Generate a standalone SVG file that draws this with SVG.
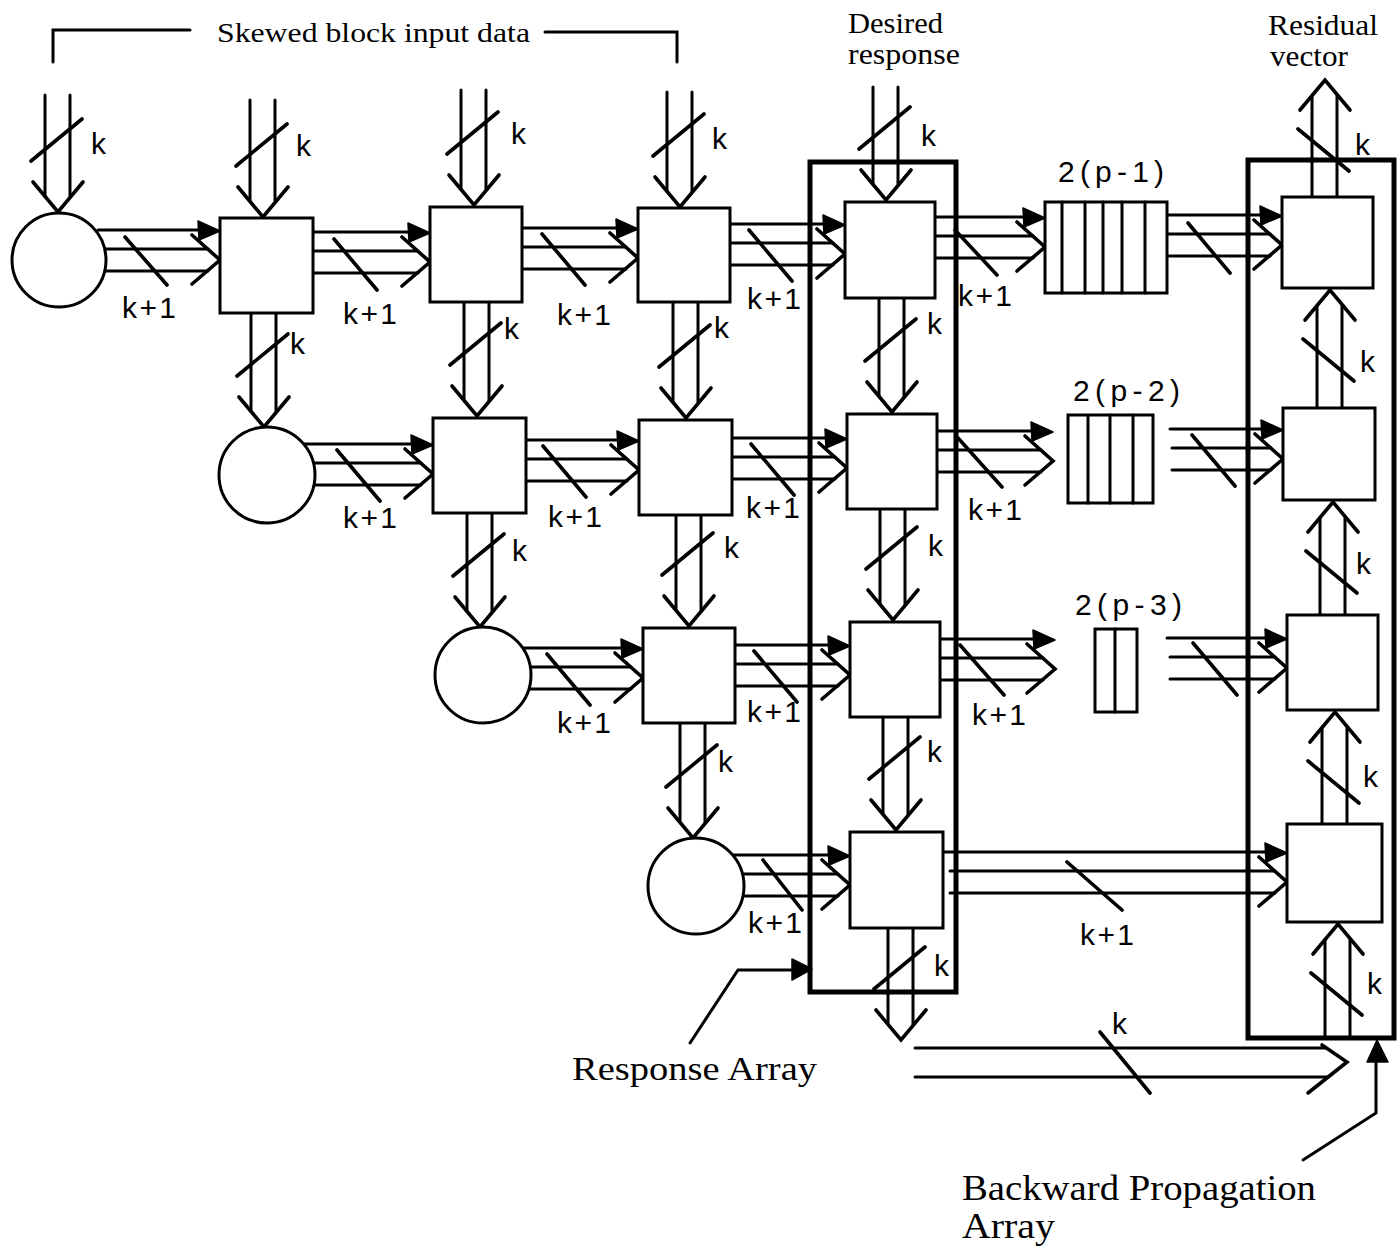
<svg xmlns="http://www.w3.org/2000/svg" xmlns:xlink="http://www.w3.org/1999/xlink" width="1400" height="1260" viewBox="0 0 1400 1260">
<style>
.ln{fill:none;stroke:#000;stroke-width:3;stroke-linecap:round}
.sl{fill:none;stroke:#000;stroke-width:3.6;stroke-linecap:round}
.hd{fill:none;stroke:#000;stroke-width:3.6;stroke-linecap:round;stroke-linejoin:miter}
.tri{fill:#000;stroke:#000;stroke-width:1.5;stroke-linejoin:round}
.bx{fill:#fff;stroke:#000;stroke-width:3}
.arr{fill:none;stroke:#000;stroke-width:5}
.s{font-family:"Liberation Sans",Arial,sans-serif;font-size:30px;fill:#000}
.r{font-family:"Liberation Serif","Times New Roman",serif;fill:#000}
</style>
<defs>
<g id="hh"><polygon class="tri" points="0,-29 -22,-39 -21,-20"/><path class="hd" d="M-28,-25 L0,0 L-28,24"/></g>
<path id="vd" class="hd" d="M-25,-30 L0,0 L25,-30"/>
<path id="vu" class="hd" d="M-25,30 L0,0 L25,30"/>
</defs>
<rect width="1400" height="1260" fill="#fff"/>

<g id="connectors">
<!-- horizontal buses -->
<path class="ln" d="M98,230 H200 M100,249 H208 M100,271 H208
M313,232 H410 M313,251 H418 M313,273 H418
M522,228 H618 M522,247 H626 M522,269 H626
M730,224 H825 M730,243 H833 M730,265 H833
M935,217 H1025 M935,236 H1033 M935,258 H1033
M1167,215 H1262 M1167,234 H1270 M1167,256 H1270
M300,444 H413 M300,463 H421 M300,485 H421
M526,440 H619 M526,459 H627 M526,481 H627
M732,438 H827 M732,457 H835 M732,479 H835
M937,431 H1033 M937,450 H1041 M937,472 H1041
M1170,429 H1263 M1172,448 H1271 M1172,470 H1271
M515,648 H623 M515,667 H631 M515,689 H631
M735,645 H830 M735,664 H838 M735,686 H838
M940,639 H1035 M940,658 H1043 M940,680 H1043
M1167,638 H1267 M1170,657 H1275 M1170,679 H1275
M730,855 H830 M730,874 H838 M730,896 H838
M943,852 H1267 M950,871 H1275 M950,893 H1275
M915,1048 H1325 M915,1077 H1328"/>
<use xlink:href="#hh" x="220" y="260"/>
<use xlink:href="#hh" x="430" y="262"/>
<use xlink:href="#hh" x="638" y="258"/>
<use xlink:href="#hh" x="845" y="254"/>
<use xlink:href="#hh" x="1045" y="247"/>
<use xlink:href="#hh" x="1282" y="245"/>
<use xlink:href="#hh" x="433" y="474"/>
<use xlink:href="#hh" x="639" y="470"/>
<use xlink:href="#hh" x="847" y="468"/>
<use xlink:href="#hh" x="1053" y="461"/>
<use xlink:href="#hh" x="1283" y="459"/>
<use xlink:href="#hh" x="643" y="678"/>
<use xlink:href="#hh" x="850" y="675"/>
<use xlink:href="#hh" x="1055" y="669"/>
<use xlink:href="#hh" x="1287" y="668"/>
<use xlink:href="#hh" x="850" y="885"/>
<use xlink:href="#hh" x="1287" y="882"/>
<path class="hd" d="M1322,1045 L1347,1062 L1308,1093"/>

<!-- vertical down buses -->
<path class="ln" d="M45,95 V196 M70,95 V196
M250,100 V201 M275,100 V201
M461,90 V189 M486,90 V189
M667,92 V191 M692,92 V191
M873,87 V184 M898,87 V184
M251,313 V411 M276,313 V411
M464,302 V400 M489,302 V400
M673,302 V402 M698,302 V402
M879,298 V396 M904,298 V396
M467,513 V611 M492,513 V611
M676,515 V610 M701,515 V610
M880,509 V604 M905,509 V604
M680,723 V822 M705,723 V822
M883,717 V814 M908,717 V814
M888,928 V1024 M913,928 V1024"/>
<use xlink:href="#vd" x="58" y="212"/>
<use xlink:href="#vd" x="263" y="217"/>
<use xlink:href="#vd" x="474" y="205"/>
<use xlink:href="#vd" x="680" y="207"/>
<use xlink:href="#vd" x="886" y="200"/>
<use xlink:href="#vd" x="264" y="427"/>
<use xlink:href="#vd" x="477" y="416"/>
<use xlink:href="#vd" x="686" y="418"/>
<use xlink:href="#vd" x="892" y="412"/>
<use xlink:href="#vd" x="480" y="627"/>
<use xlink:href="#vd" x="689" y="626"/>
<use xlink:href="#vd" x="893" y="620"/>
<use xlink:href="#vd" x="693" y="838"/>
<use xlink:href="#vd" x="896" y="830"/>
<use xlink:href="#vd" x="901" y="1040"/>

<!-- vertical up buses -->
<path class="ln" d="M1312,197 V96 M1337,197 V96
M1317,408 V306 M1342,408 V306
M1320,615 V518 M1345,615 V518
M1322,824 V728 M1347,824 V728
M1325,1038 V940 M1350,1038 V940"/>
<use xlink:href="#vu" x="1325" y="80"/>
<use xlink:href="#vu" x="1330" y="290"/>
<use xlink:href="#vu" x="1333" y="502"/>
<use xlink:href="#vu" x="1335" y="712"/>
<use xlink:href="#vu" x="1338" y="924"/>

<!-- width slashes -->
<path class="sl" d="M125,237 L167,285 M334,239 L377,290 M542,234 L585,285 M749,230 L792,281
M955,230 L997,275 M1188,223 L1230,273 M337,450 L380,501 M543,446 L586,497
M751,444 L794,495 M958,438 L1002,487 M1192,435 L1235,486 M547,654 L590,705
M754,651 L797,702 M960,645 L1004,695 M1193,643 L1237,695 M763,860 L802,910
M1067,862 L1122,910 M1100,1032 L1150,1093
M31,161 L82,119 M236,166 L287,124 M447,154 L498,112 M653,156 L704,114 M859,149 L910,107
M237,376 L288,334 M450,365 L501,323 M659,367 L710,325 M865,361 L916,319
M453,576 L504,534 M662,575 L713,533 M866,569 L917,527
M666,787 L717,745 M869,779 L920,737 M874,989 L925,947
M1298,129 L1349,171 M1303,339 L1354,381 M1306,551 L1357,593 M1308,761 L1359,803 M1311,973 L1362,1015"/>

<!-- bracket and leaders -->
<path class="ln" d="M53,62 V30 H190 M545,32 H677 V62"/>
<path class="ln" d="M690,1043 L738,970 H795"/>
<polygon class="tri" points="812,969 792,959 792,980"/>
<path class="ln" d="M1303,1160 L1376,1113 V1062"/>
<polygon class="tri" points="1377,1040 1367,1062 1388,1062"/>
</g>

<g id="response-array"><rect class="arr" x="810" y="162" width="146" height="830"/></g>
<g id="backward-array"><rect class="arr" x="1248" y="160" width="146" height="878"/></g>

<g id="c1"><circle class="bx" cx="59" cy="260" r="47"/></g>
<g id="c2"><circle class="bx" cx="267" cy="475" r="48"/></g>
<g id="c3"><circle class="bx" cx="483" cy="675" r="48"/></g>
<g id="c4"><circle class="bx" cx="696" cy="886" r="48"/></g>

<g id="a1"><rect class="bx" x="220" y="218" width="93" height="95"/></g>
<g id="a2"><rect class="bx" x="430" y="207" width="92" height="95"/></g>
<g id="a3"><rect class="bx" x="638" y="208" width="92" height="94"/></g>
<g id="a4"><rect class="bx" x="845" y="202" width="90" height="96"/></g>
<g id="b2"><rect class="bx" x="433" y="418" width="93" height="95"/></g>
<g id="b3"><rect class="bx" x="639" y="420" width="93" height="95"/></g>
<g id="b4"><rect class="bx" x="847" y="414" width="90" height="95"/></g>
<g id="cc3"><rect class="bx" x="643" y="628" width="92" height="95"/></g>
<g id="cc4"><rect class="bx" x="850" y="622" width="90" height="95"/></g>
<g id="d4"><rect class="bx" x="850" y="832" width="93" height="96"/></g>

<g id="r1"><rect class="bx" x="1282" y="197" width="91" height="91"/></g>
<g id="r2"><rect class="bx" x="1283" y="408" width="92" height="92"/></g>
<g id="r3"><rect class="bx" x="1287" y="615" width="91" height="95"/></g>
<g id="r4"><rect class="bx" x="1287" y="824" width="95" height="98"/></g>

<g id="fifo1"><rect class="bx" x="1045" y="202" width="122" height="91"/><path class="ln" d="M1062,202 V293 M1085,202 V293 M1103,202 V293 M1122,202 V293 M1145,202 V293"/></g>
<g id="fifo2"><rect class="bx" x="1068" y="415" width="85" height="88"/><path class="ln" d="M1088,415 V503 M1110,415 V503 M1133,415 V503"/></g>
<g id="fifo3"><rect class="bx" x="1095" y="629" width="42" height="83"/><path class="ln" d="M1115,629 V712"/></g>

<g id="labels">
<text class="r" x="217" y="42" font-size="28" textLength="313" lengthAdjust="spacingAndGlyphs">Skewed block input data</text>
<text class="r" x="848" y="33" font-size="29" textLength="95" lengthAdjust="spacingAndGlyphs">Desired</text>
<text class="r" x="848" y="64" font-size="29" textLength="112" lengthAdjust="spacingAndGlyphs">response</text>
<text class="r" x="1268" y="35" font-size="29" textLength="110" lengthAdjust="spacingAndGlyphs">Residual</text>
<text class="r" x="1270" y="66" font-size="29" textLength="78" lengthAdjust="spacingAndGlyphs">vector</text>
<text class="r" x="572" y="1080" font-size="34" textLength="245" lengthAdjust="spacingAndGlyphs">Response Array</text>
<text class="r" x="962" y="1200" font-size="35" textLength="354" lengthAdjust="spacingAndGlyphs">Backward Propagation</text>
<text class="r" x="962" y="1238" font-size="35" textLength="93" lengthAdjust="spacingAndGlyphs">Array</text>

<text class="s" x="1058" y="182" textLength="106" lengthAdjust="spacing">2(p-1)</text>
<text class="s" x="1073" y="401" textLength="107" lengthAdjust="spacing">2(p-2)</text>
<text class="s" x="1075" y="615" textLength="107" lengthAdjust="spacing">2(p-3)</text>

<text class="s" x="122" y="318" textLength="54" lengthAdjust="spacing">k+1</text>
<text class="s" x="343" y="324" textLength="54" lengthAdjust="spacing">k+1</text>
<text class="s" x="557" y="325" textLength="54" lengthAdjust="spacing">k+1</text>
<text class="s" x="747" y="309" textLength="54" lengthAdjust="spacing">k+1</text>
<text class="s" x="958" y="306" textLength="54" lengthAdjust="spacing">k+1</text>
<text class="s" x="343" y="528" textLength="54" lengthAdjust="spacing">k+1</text>
<text class="s" x="548" y="527" textLength="54" lengthAdjust="spacing">k+1</text>
<text class="s" x="746" y="518" textLength="54" lengthAdjust="spacing">k+1</text>
<text class="s" x="968" y="520" textLength="54" lengthAdjust="spacing">k+1</text>
<text class="s" x="557" y="733" textLength="54" lengthAdjust="spacing">k+1</text>
<text class="s" x="747" y="722" textLength="54" lengthAdjust="spacing">k+1</text>
<text class="s" x="972" y="725" textLength="54" lengthAdjust="spacing">k+1</text>
<text class="s" x="748" y="933" textLength="54" lengthAdjust="spacing">k+1</text>
<text class="s" x="1080" y="945" textLength="54" lengthAdjust="spacing">k+1</text>

<text class="s" x="91" y="154">k</text>
<text class="s" x="296" y="156">k</text>
<text class="s" x="511" y="144">k</text>
<text class="s" x="712" y="149">k</text>
<text class="s" x="921" y="146">k</text>
<text class="s" x="290" y="354">k</text>
<text class="s" x="504" y="339">k</text>
<text class="s" x="714" y="338">k</text>
<text class="s" x="927" y="334">k</text>
<text class="s" x="512" y="561">k</text>
<text class="s" x="724" y="558">k</text>
<text class="s" x="928" y="556">k</text>
<text class="s" x="718" y="772">k</text>
<text class="s" x="927" y="762">k</text>
<text class="s" x="934" y="976">k</text>
<text class="s" x="1355" y="155">k</text>
<text class="s" x="1360" y="372">k</text>
<text class="s" x="1356" y="574">k</text>
<text class="s" x="1363" y="787">k</text>
<text class="s" x="1367" y="994">k</text>
<text class="s" x="1112" y="1034">k</text>
</g>
</svg>
